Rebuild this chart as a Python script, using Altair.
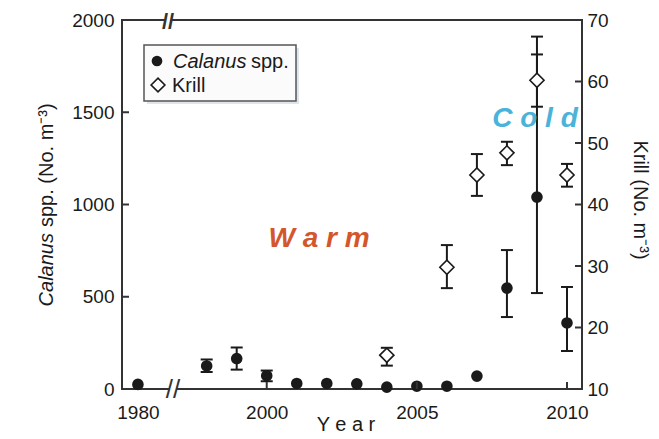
import altair as alt
import numpy as np
import pandas as pd

# ---------------- data ----------------
cal_years = [1980, 1998, 1999, 2000, 2001, 2002, 2003, 2004, 2005, 2006, 2007, 2008, 2009, 2010]
cal_mean = [25, 125, 165, 72, 30, 30, 28, 10, 15, 15, 70, 547, 1040, 358]
cal_low = [np.nan, 92, 105, 42, np.nan, np.nan, np.nan, np.nan, np.nan, np.nan, np.nan, 390, 520, 206]
cal_high = [np.nan, 160, 225, 100, np.nan, np.nan, np.nan, np.nan, np.nan, np.nan, np.nan, 753, 1910, 553]

krill_years = [2004, 2006, 2007, 2008, 2009, 2010]
krill_mean = [15.5, 29.8, 44.8, 48.4, 60.2, 44.8]
krill_low = [13.8, 26.4, 41.4, 46.4, 55.9, 42.9]
krill_high = [16.7, 33.4, 48.2, 50.2, 64.4, 46.6]

left_ticks = [0, 500, 1000, 1500, 2000]
right_ticks = [10, 20, 30, 40, 50, 60, 70]
x_ticks = [2000, 2005, 2010]

# ---------------- layout / style ----------------
FONT = "Liberation Sans"
INK = "#1a1a1a"
AXIS = "#333333"
W, H = 460, 369
BREAK_POS = 1995.71  # where the 1980 value sits after the axis break

cal = pd.DataFrame(dict(year=cal_years, mean=cal_mean, low=cal_low, high=cal_high))
cal["pos"] = np.where(cal["year"] < 1990, BREAK_POS, cal["year"])
cal_err = cal.dropna()

kr = pd.DataFrame(dict(year=krill_years, mean=krill_mean, low=krill_low, high=krill_high))
kr["pos"] = kr["year"]

xscale = alt.Scale(domain=[1995.18, 2010.5], nice=False, zero=False)
xaxis = alt.Axis(values=[BREAK_POS] + x_ticks,
                 labelExpr="datum.value < 1997 ? '1980' : '' + datum.value",
                 title=None, grid=False, domain=False, ticks=False, tickSize=0,
                 labelPadding=14, labelFlush=False, labelFont=FONT, labelFontSize=19,
                 labelColor=INK)
yl_scale = alt.Scale(domain=[0, 2000], nice=False, zero=False)
yl_axis = alt.Axis(values=left_ticks, orient="left", title=None, grid=False, domain=False,
                   ticks=False, tickSize=0, labelPadding=8, labelFlush=False, format="d",
                   labelFont=FONT, labelFontSize=19, labelColor=INK)
yr_scale = alt.Scale(domain=[10, 70], nice=False, zero=False)
yr_axis = alt.Axis(values=right_ticks, orient="right", title=None, grid=False, domain=False,
                   ticks=False, tickSize=0, labelPadding=5, labelFlush=False, format="d",
                   labelFont=FONT, labelFontSize=19, labelColor=INK)


def X(f):
    return alt.X(f, type="quantitative", scale=xscale, axis=xaxis)


def YL(f):
    return alt.Y(f, type="quantitative", scale=yl_scale, axis=yl_axis)


def YR(f):
    return alt.Y(f, type="quantitative", scale=yr_scale, axis=yr_axis)


ONE = pd.DataFrame({"a": [0]})


def txt(text, x, y, size, **kw):
    return alt.Chart(ONE).mark_text(text=text, font=FONT, fontSize=size, **kw).encode(
        x=alt.value(x), y=alt.value(y))


# ---------------- Calanus (left axis) ----------------
cal_rule = alt.Chart(cal_err).mark_rule(color=INK, strokeWidth=2).encode(
    x=X("pos"), y=YL("low"), y2=alt.Y2("high"))
cal_cap_lo = alt.Chart(cal_err).mark_tick(color=INK, orient="horizontal", size=12,
                                          thickness=2, opacity=1).encode(x=X("pos"), y=YL("low"))
cal_cap_hi = alt.Chart(cal_err).mark_tick(color=INK, orient="horizontal", size=12,
                                          thickness=2, opacity=1).encode(x=X("pos"), y=YL("high"))
cal_pts = alt.Chart(cal).mark_circle(size=135, color=INK, opacity=1).encode(
    x=X("pos"), y=YL("mean"))
lt_df = pd.DataFrame({"v": left_ticks[1:-1]})
cal_ticks = alt.Chart(lt_df).mark_rule(color=AXIS, strokeWidth=2).encode(
    y=YL("v"), x=alt.value(0), x2=alt.value(7))
cal_layer = alt.layer(cal_rule, cal_cap_lo, cal_cap_hi, cal_pts, cal_ticks)

# ---------------- Krill (right axis) ----------------
kr_rule = alt.Chart(kr).mark_rule(color=INK, strokeWidth=2).encode(
    x=X("pos"), y=YR("low"), y2=alt.Y2("high"))
kr_cap_lo = alt.Chart(kr).mark_tick(color=INK, orient="horizontal", size=12,
                                    thickness=2, opacity=1).encode(x=X("pos"), y=YR("low"))
kr_cap_hi = alt.Chart(kr).mark_tick(color=INK, orient="horizontal", size=12,
                                    thickness=2, opacity=1).encode(x=X("pos"), y=YR("high"))
kr_pts = alt.Chart(kr).mark_point(shape="diamond", filled=True, fill="white", stroke=INK,
                                  strokeWidth=1.6, size=200, opacity=1).encode(
    x=X("pos"), y=YR("mean"))
rt_df = pd.DataFrame({"v": right_ticks[1:-1]})
kr_ticks = alt.Chart(rt_df).mark_rule(color=AXIS, strokeWidth=2).encode(
    y=YR("v"), x=alt.value(W - 7), x2=alt.value(W))
kr_layer = alt.layer(kr_rule, kr_cap_lo, kr_cap_hi, kr_pts, kr_ticks)

# ---------------- decorations ----------------
bt_df = pd.DataFrame({"v": x_ticks})
bottom_ticks = alt.Chart(bt_df).mark_rule(color=AXIS, strokeWidth=2).encode(
    x=X("v"), y=alt.value(H - 7), y2=alt.value(H))

# axis breaks
gap_top = alt.Chart(ONE).mark_rect(color="white").encode(
    x=alt.value(43), x2=alt.value(49), y=alt.value(-3), y2=alt.value(3))
gap_bot = alt.Chart(ONE).mark_rect(color="white").encode(
    x=alt.value(48), x2=alt.value(54), y=alt.value(H - 3), y2=alt.value(H + 3))
brk_top = txt("//", 46, 2, 22, color=AXIS, fontWeight="bold", align="center", baseline="middle")
brk_bot = txt("//", 51, H + 1, 26, color=AXIS, align="center", baseline="middle")

# annotations
warm = txt("W a r m", 197, 227, 28, color="#d4562b", fontWeight="bold", fontStyle="italic",
           align="center", baseline="alphabetic")
cold = txt("C o l d", 413, 107, 28, color="#4ab3d9", fontWeight="bold", fontStyle="italic",
           align="center", baseline="alphabetic")

# legend
leg_shadow = alt.Chart(ONE).mark_rect(color="#dfe5ec").encode(
    x=alt.value(25), x2=alt.value(177), y=alt.value(28), y2=alt.value(84))
leg_box = alt.Chart(ONE).mark_rect(fill="#fbfbfb", stroke="#555555", strokeWidth=1.5).encode(
    x=alt.value(22), x2=alt.value(174), y=alt.value(25), y2=alt.value(81))
leg_dot = alt.Chart(ONE).mark_circle(size=115, color=INK, opacity=1).encode(
    x=alt.value(35), y=alt.value(41))
leg_dia = alt.Chart(ONE).mark_point(shape="diamond", filled=True, fill="white", stroke=INK,
                                    strokeWidth=1.6, size=190, opacity=1).encode(
    x=alt.value(36), y=alt.value(65))
leg_t1 = txt("Calanus", 51, 48, 20, color=INK, fontStyle="italic", align="left",
             baseline="alphabetic")
leg_t2 = txt("spp.", 129, 48, 20, color=INK, align="left", baseline="alphabetic")
leg_t3 = txt("Krill", 50, 72, 20, color=INK, align="left", baseline="alphabetic")

# axis titles
yl_t1 = txt("Calanus", -75, 213, 20, color=INK, fontStyle="italic", angle=270,
            align="right", baseline="middle")
yl_t2 = txt("spp. (No. m⁻³)", -75, 207, 20, color=INK, angle=270,
            align="left", baseline="middle")
yr_t = txt("Krill (No. m⁻³)", 518, 180, 20, color=INK, angle=90,
           align="center", baseline="middle")
x_t = txt("Y e a r", 224, 411, 20, color=INK, align="center", baseline="alphabetic")

chart = alt.layer(
    cal_layer, kr_layer, bottom_ticks,
    gap_top, gap_bot, brk_top, brk_bot,
    warm, cold,
    leg_shadow, leg_box, leg_dot, leg_dia, leg_t1, leg_t2, leg_t3,
    yl_t1, yl_t2, yr_t, x_t,
).resolve_scale(y="independent").properties(
    width=W, height=H,
    padding={"left": 114, "top": 12, "right": 69, "bottom": 46},
    autosize=alt.AutoSizeParams(type="none"),
).configure_view(stroke=AXIS, strokeWidth=2)

chart.save("out.html", embed_options={"renderer": "svg", "actions": False})
